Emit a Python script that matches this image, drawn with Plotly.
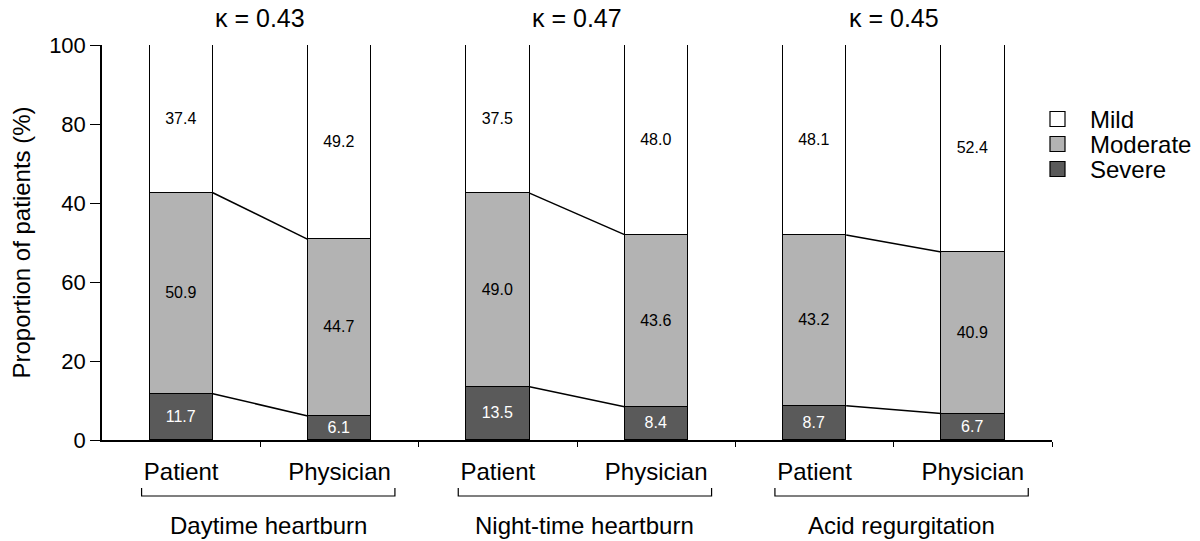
import plotly.graph_objects as go

# ---- data ----
groups = ["Daytime heartburn", "Night-time heartburn", "Acid regurgitation"]
raters = ["Patient", "Physician"]
kappas = [0.43, 0.47, 0.45]
severe = [11.7, 6.1, 13.5, 8.4, 8.7, 6.7]
moderate = [50.9, 44.7, 49.0, 43.6, 43.2, 40.9]
mild = [37.4, 49.2, 37.5, 48.0, 48.1, 52.4]
y_tickvals = [0, 20, 40, 60, 80, 100]
y_ticktext = ["0", "20", "60", "40", "80", "100"]
legend_names = ["Mild", "Moderate", "Severe"]

# ---- layout constants ----
W, H = 1200, 541
ML, MR, MT, MB = 102, 148, 45, 101
PW = W - ML - MR
PH = H - MT - MB
FONT = "Arial, Liberation Sans, sans-serif"
BW = 0.4

n = len(groups) * len(raters)
xs = list(range(n))
cat_labels = [r for g in groups for r in raters]

colors = {"Severe": "#5a5a5a", "Moderate": "#b3b3b3", "Mild": "#ffffff"}
txtcol = {"Severe": "white", "Moderate": "black", "Mild": "black"}

fig = go.Figure()
for name, vals in [("Severe", severe), ("Moderate", moderate), ("Mild", mild)]:
    fig.add_trace(go.Bar(
        x=xs, y=vals, name=name, width=BW, showlegend=False,
        marker=dict(color=colors[name], line=dict(color="black", width=1.5)),
        text=[f"{v:.1f}" for v in vals], textposition="inside",
        insidetextanchor="middle", textangle=0,
        textfont=dict(family=FONT, size=16, color=txtcol[name]),
        hovertemplate=name + ": %{y:.1f}%<extra></extra>",
    ))

# connector lines between patient and physician bars
for gi in range(len(groups)):
    i0, i1 = 2 * gi, 2 * gi + 1
    for cum in ([severe[i0], severe[i1]],
                [severe[i0] + moderate[i0], severe[i1] + moderate[i1]]):
        fig.add_trace(go.Scatter(
            x=[i0 + BW / 2, i1 - BW / 2], y=cum, mode="lines",
            line=dict(color="black", width=1.5), showlegend=False,
            hoverinfo="skip",
        ))

def py(px):
    """pixel offset below plot bottom -> paper y"""
    return -px / PH

def ppx(x):
    """absolute pixel x -> paper x"""
    return (x - ML) / PW

def ppy(y):
    """absolute pixel y -> paper y"""
    return (MT + PH - y) / PH

annotations = []
shapes = []
for gi, g in enumerate(groups):
    x0 = 2 * gi
    annotations.append(dict(
        x=x0 + 0.5, y=1, xref="x", yref="paper", yanchor="middle", yshift=27,
        text=f"κ = {kappas[gi]:.2f}", showarrow=False,
        font=dict(family=FONT, size=25, color="black")))
    annotations.append(dict(
        x=x0 + 0.55, y=py(85), xref="x", yref="paper", yanchor="middle",
        text=g, showarrow=False, font=dict(family=FONT, size=24, color="black")))
    bl, br = x0 - 0.25, x0 + 1.35
    shapes.append(dict(
        type="path", xref="x", yref="paper",
        path=f"M {bl} {py(48)} L {bl} {py(56)} L {br} {py(56)} L {br} {py(48)}",
        line=dict(color="black", width=1.2)))

# manual legend
for k, name in enumerate(legend_names):
    cy = 119 + 25 * k
    shapes.append(dict(
        type="rect", xref="paper", yref="paper",
        x0=ppx(1050), x1=ppx(1065), y0=ppy(cy + 7.5), y1=ppy(cy - 7.5),
        fillcolor=colors[name], line=dict(color="black", width=1.2)))
    annotations.append(dict(
        x=ppx(1088), y=ppy(cy), xref="paper", yref="paper",
        xanchor="left", yanchor="middle", text=name, showarrow=False,
        font=dict(family=FONT, size=24, color="black")))

fig.update_layout(
    width=W, height=H, barmode="stack", bargap=0,
    plot_bgcolor="white", paper_bgcolor="white",
    margin=dict(l=ML, r=MR, t=MT, b=MB),
    font=dict(family=FONT, color="black"),
    annotations=annotations, shapes=shapes,
    showlegend=False,
    xaxis=dict(
        range=[-0.5, n - 0.5], tickvals=xs, ticktext=cat_labels, ticks="",
        tickfont=dict(family=FONT, size=24), ticklabelstandoff=9,
        showline=True, linecolor="black", linewidth=1.5, showgrid=False,
        zeroline=False,
        minor=dict(tickvals=[i + 0.5 for i in xs], ticks="outside",
                   ticklen=5, tickwidth=1.2, tickcolor="black", showgrid=False),
    ),
    yaxis=dict(
        range=[0, 100], tickvals=y_tickvals, ticktext=y_ticktext,
        ticks="outside", ticklen=10, tickwidth=1.2, tickcolor="black",
        tickfont=dict(family=FONT, size=22),
        showline=True, linecolor="black", linewidth=1.5, showgrid=False,
        zeroline=False,
        title=dict(text="Proportion of patients (%)", standoff=12,
                   font=dict(family=FONT, size=24)),
    ),
)

fig.write_html("out.html", config={"displayModeBar": False},
               post_script="document.body.style.margin='0px';")
